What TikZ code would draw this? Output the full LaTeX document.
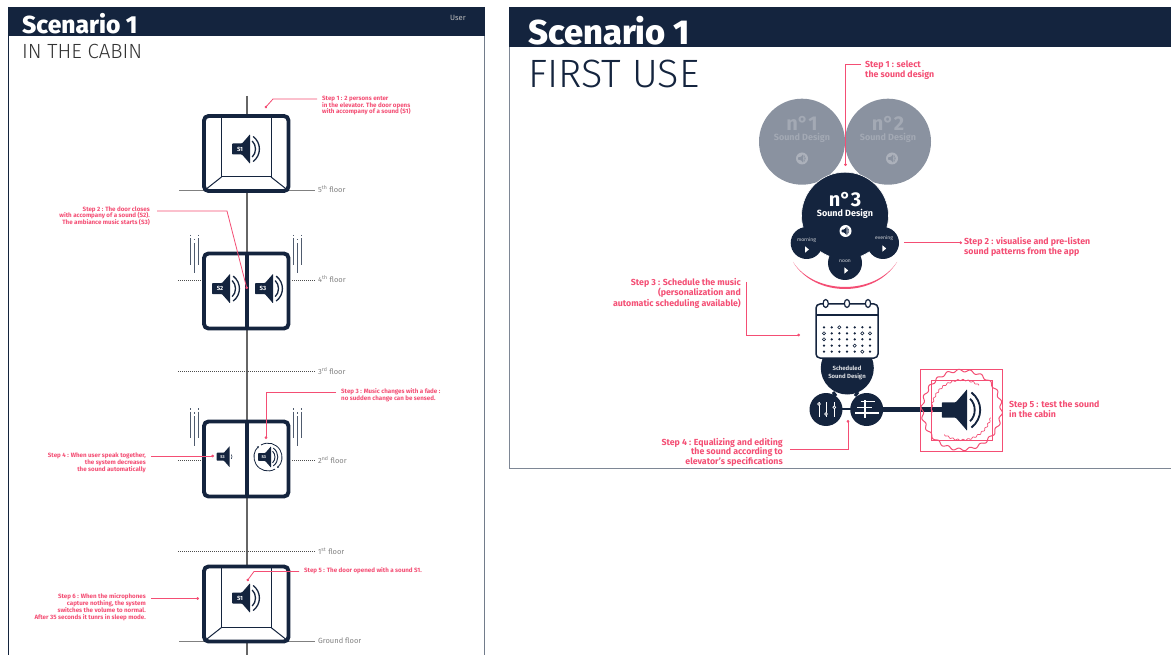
\documentclass[tikz,border=0pt]{standalone}
\usepackage{fontspec}
\setmainfont{Fira Sans}
\newfontfamily\heavyf{Fira Sans ExtraBold}
\newfontfamily\lightf{Fira Sans Light}
\usetikzlibrary{arrows.meta}
\definecolor{navy}{HTML}{14243E}
\definecolor{pinkred}{HTML}{F44E74}
\definecolor{greycirc}{HTML}{8A92A0}
\definecolor{greytxt}{HTML}{A3A9B4}
\definecolor{floorc}{HTML}{808080}
\tikzset{
  redline/.style={draw=pinkred,line width=.8pt},
  dotend/.style={redline,-{Circle[length=2.6pt,width=2.6pt]}},
  redsmall/.style={text=pinkred,font=\fontsize{6.2}{6.8}\selectfont\bfseries,inner sep=0pt},
  redbig/.style={text=pinkred,font=\fontsize{8.8}{9.5}\selectfont\bfseries,inner sep=0pt},
  floorlabel/.style={text=floorc,font=\fontsize{7.5}{8}\selectfont,inner sep=0pt,anchor=west},
  solidfloor/.style={draw=floorc,line width=.9pt},
  dotfloor/.style={draw=black!70,line width=.6pt,dash pattern=on .9pt off 1.1pt},
  cabin/.style={draw=navy,line width=3.9pt,rounded corners=4.5pt,fill=white},
  thinnavy/.style={draw=navy,line width=1pt},
  vib/.style={draw=navy!75,line width=.9pt},
  circtitle/.style={font=\fontsize{20}{21}\selectfont\bfseries,inner sep=0pt,anchor=base},
  circsub/.style={font=\fontsize{9}{10}\selectfont\bfseries,inner sep=0pt,anchor=base},
}
% speaker icon: x, y, scale, colour, label, label size
\newcommand{\spk}[6]{%
 \begin{scope}[shift={(#1,#2)},scale=#3]
  \fill[#4,rounded corners=.8pt] (-18,-5.5) -- (-8,-5.5) -- (-1,-13.5) -- (0,-15) -- (0,15) -- (-1,13.5) -- (-8,5.5) -- (-18,5.5) -- cycle;
  \draw[#4,line width=#3*1.3pt] (2.2,-8) .. controls (6.6,-4) and (6.6,4) .. (2.2,8);
  \draw[#4,line width=#3*1.3pt] (3.2,-12.5) .. controls (11.5,-6) and (11.5,6) .. (3.2,12.5);
  \node[text=white,font=\fontsize{#6}{#6}\selectfont\bfseries,inner sep=0pt] at (-10,0) {#5};
 \end{scope}}
% vibration marks
\newcommand{\vibs}[2]{%
 \draw[vib] (#1,#2) -- (#1,#2+1.5);
 \draw[vib] (#1,#2+3.5) -- (#1,#2+30);
 \draw[vib] (#1+4,#2+4) -- (#1+4,#2+5.5);
 \draw[vib] (#1+4,#2+8) -- (#1+4,#2+38);
 \draw[vib] (#1+8,#2) -- (#1+8,#2+1.5);
 \draw[vib] (#1+8,#2+3.5) -- (#1+8,#2+30);}
% open cabin frame
\newcommand{\opencabin}[1]{%
 \draw[cabin] (204,#1) rectangle (288.5,#1+75);
 \draw[thinnavy] (221.5,#1+1) -- (221.5,#1+61) -- (271,#1+61) -- (271,#1+1);
 \draw[thinnavy] (221.5,#1+61) -- (205,#1+74);
 \draw[thinnavy] (271,#1+61) -- (287.5,#1+74);}
\newcommand{\closedcabin}[1]{%
 \draw[cabin] (204,#1) rectangle (288.5,#1+75);
 \draw[navy,line width=3.9pt] (247,#1) -- (247,#1+75);}
% small play button
\newcommand{\playb}[2]{\fill[white] (#1-1.6,#2-3.2) -- (#1+2.2,#2) -- (#1-1.6,#2+3.2) -- cycle;}
% small round speaker
\newcommand{\rspk}[4]{%
 \fill[#3] (#1,#2) circle[radius=6pt];
 \spk{#1+1}{#2}{.27}{#4}{}{3}}
\begin{document}
\begin{tikzpicture}[x=1pt,y=-1pt]
\useasboundingbox (0,0) rectangle (1171,655);
\fill[white] (0,0) rectangle (1171,655);

% ---------- left panel
\draw[navy,line width=1pt] (8.5,7) -- (8.5,655);
\draw[navy!60,line width=1pt] (484,7) -- (484,655);
\fill[navy] (8,7) rectangle (484.5,36);
\node[anchor=base west,inner sep=0pt,text=white,font=\fontsize{24.6}{25}\selectfont\heavyf] (titleL) at (22,34) {Scenario 1};
\node[anchor=base west,inner sep=0pt,text=black!80,font=\fontsize{20.5}{21}\selectfont\lightf] (subL) at (22,59) {IN THE CABIN};
\node[anchor=center,inner sep=0pt,text=black!25,font=\fontsize{7.6}{8}\selectfont] (user) at (458,17.5) {User};

% shaft
\draw[draw=black!60,line width=1.1pt] (247,96) -- (247,655);

% floors
\draw[solidfloor] (179,190.5) -- (204,190.5);
\draw[solidfloor] (289,190.5) -- (315,190.5);
\node[floorlabel] (f5) at (318,189) {5\textsuperscript{th} floor};
\draw[dotfloor] (178,280) -- (203,280);
\draw[dotfloor] (292,280) -- (315,280);
\node[floorlabel] (f4) at (318,279) {4\textsuperscript{th} floor};
\draw[dotfloor] (178,371) -- (315,371);
\node[floorlabel] (f3) at (318,371) {3\textsuperscript{rd} floor};
\draw[dotfloor] (178,460.7) -- (203,460.7);
\draw[dotfloor] (292,460.7) -- (315,460.7);
\node[floorlabel] (f2) at (318,460) {2\textsuperscript{nd} floor};
\draw[dotfloor] (178,551) -- (315,551);
\node[floorlabel] (f1) at (318,551) {1\textsuperscript{st} floor};
\draw[solidfloor] (179,641) -- (204,641);
\draw[solidfloor] (289,641) -- (315,641);
\node[floorlabel] (f0) at (318,641) {Ground floor};

% cabins
\opencabin{116}
\spk{250}{149}{1}{navy}{S1}{6}
\closedcabin{253.5}
\spk{230}{288.6}{1}{navy}{S2}{6}
\spk{273}{288.6}{1}{navy}{S3}{6}
\vibs{190.7}{235}
\vibs{293.3}{235}
\closedcabin{421.5}
\vibs{190.7}{408}
\vibs{293.3}{408}
\begin{scope}[shift={(229.7,456.7)},scale=.72]
 \fill[navy,rounded corners=.6pt] (-18,-5.5) -- (-8,-5.5) -- (-1,-13.5) -- (0,-15) -- (0,15) -- (-1,13.5) -- (-8,5.5) -- (-18,5.5) -- cycle;
 \node[text=white,font=\fontsize{4}{4}\selectfont\bfseries,inner sep=0pt] at (-10,0) {S3};
 \draw[navy,line width=.5pt] (2.2,-3) .. controls (3.6,-1) and (3.6,1) .. (2.2,3);
\end{scope}
\spk{271}{457}{.72}{navy}{S3}{4}
\draw[navy,line width=.8pt,-{Stealth[length=2pt,width=2pt]}] (261,445) arc[start angle=120,end angle=-50,radius=14pt];
\draw[navy,line width=.8pt,-{Stealth[length=2pt,width=2pt]}] (275,469.1) arc[start angle=-60,end angle=-230,radius=14pt];
\opencabin{566.5}
\spk{250}{598}{1}{navy}{S1}{6}

% left steps
\node[redsmall,anchor=west,align=left] (st1) at (322,105.5) {Step 1 : 2 persons enter\\in the elevator. The door opens\\with accompany of a sound (S1)};
\coordinate (st1a) at (317,99); \coordinate (st1b) at (265,108);
\draw[dotend] (st1a) -- (273,99) -- (st1b);
\node[redsmall,anchor=east,align=right] (st2) at (150,216) {Step 2 : The door closes\\with accompany of a sound (S2).\\The ambiance music starts (S3)};
\coordinate (st2a) at (157,211); \coordinate (st2b) at (247,289);
\draw[dotend] (st2a) -- (227,211) -- (st2b);
\node[redsmall,anchor=west,align=left] (st3) at (341,395.5) {Step 3 : Music changes with a fade :\\no sudden change can be sensed.};
\coordinate (st3a) at (336,392); \coordinate (st3b) at (266,439);
\draw[dotend] (st3a) -- (266,392) -- (st3b);
\node[redsmall,anchor=east,align=right] (st4) at (146,463) {Step 4 : When user speak together,\\the system decreases\\the sound automatically};
\coordinate (st4a) at (151,456); \coordinate (st4b) at (214,456);
\draw[dotend] (st4a) -- (st4b);
\node[redsmall,anchor=west] (st5) at (304,571) {Step 5 : The door opened with a sound S1.};
\coordinate (st5a) at (299,571.5); \coordinate (st5b) at (247,581);
\draw[dotend] (st5a) -- (254,571.5) -- (st5b);
\node[redsmall,anchor=east,align=right] (st6) at (146,607) {Step 6 : When the microphones\\capture nothing, the system\\switches the volume to normal.\\After 35 seconds it tunrs in sleep mode.};
\coordinate (st6a) at (151,598.5); \coordinate (st6b) at (199,598.5);
\draw[dotend] (st6a) -- (st6b);

% ---------- right panel
\draw[navy!55,line width=1pt] (509,7) -- (509,468) -- (1171,468);
\fill[navy] (509,7) rectangle (1171,47);
\node[anchor=base west,inner sep=0pt,text=white,font=\fontsize{34.5}{35}\selectfont\heavyf] (titleR) at (528,45) {Scenario 1};
\node[anchor=base west,inner sep=0pt,text=navy,font=\fontsize{39.5}{40}\selectfont\lightf] (subR) at (528,88) {FIRST USE};

% design circles
\fill[pinkred] (793,262) .. controls (815,298) and (875,298) .. (897,262) .. controls (875,295.3) and (815,295.3) .. (793,262);
\node[circle,fill=greycirc,minimum size=86pt,inner sep=0pt] (c1) at (802,141.7) {};
\node[circle,fill=greycirc,minimum size=86pt,inner sep=0pt] (c2) at (888,141.7) {};
\node[circle,fill=navy,draw=white,line width=.6pt,minimum size=87pt,inner sep=0pt] (c3) at (845,215.7) {};
\node[circle,fill=navy,minimum size=32pt,inner sep=0pt] (cm) at (806.7,243) {};
\node[circle,fill=navy,minimum size=32pt,inner sep=0pt] (ce) at (883,243) {};
\node[circle,fill=navy,minimum size=34pt,inner sep=0pt] (cn) at (845,263) {};
\node[circtitle,text=greytxt] (t1) at (802,130.5) {n°1};
\node[circsub,text=greytxt] (u1) at (802,141) {Sound Design};
\node[circtitle,text=greytxt] (t2) at (888,130.5) {n°2};
\node[circsub,text=greytxt] (u2) at (888,141) {Sound Design};
\node[circtitle,text=white] (t3) at (845,206.5) {n°3};
\node[circsub,text=white] (u3) at (845,216.5) {Sound Design};
\rspk{802}{158.5}{greytxt!90!white}{greycirc}
\rspk{892}{158.5}{greytxt!90!white}{greycirc}
\rspk{845.5}{231}{white}{navy}
\node[text=white!80!navy,font=\fontsize{5}{5}\selectfont,inner sep=0pt] (lm) at (806.5,240.5) {morning};
\node[text=white!80!navy,font=\fontsize{5}{5}\selectfont,inner sep=0pt] (le) at (884,238.5) {evening};
\node[text=white!80!navy,font=\fontsize{5}{5}\selectfont,inner sep=0pt] (ln) at (845,261) {noon};
\playb{806.7}{249.5}
\playb{884}{248.5}
\playb{846}{270.5}

% calendar
\node[circle,fill=navy,minimum size=53pt,inner sep=0pt] (sched) at (847.3,368) {};
\draw[navy,line width=1.5pt,fill=white,rounded corners=4pt] (816,304) rectangle (878,358);
\draw[navy,line width=1.5pt] (816,315) -- (878,315);
\foreach \x in {825.7,847,868}{\draw[navy,line width=1.2pt,fill=white] (\x,303.5) ellipse[x radius=2.6pt,y radius=4pt];}
\foreach \y/\row in {327.3/1,333.3/2,339.3/3,345.7/4,351.7/5}{
 \foreach \x in {824,831.7,839.3,847,854.7,862.3,870}{\fill[navy] (\x,\y) circle[radius=1.25pt];}}
\foreach \x/\y in {839.3/327.3,824/333.3,862.3/333.3,870/333.3,824/339.3,854.7/345.7,862.3/351.7}{
 \draw[navy,line width=.6pt,fill=white] (\x,\y) circle[radius=1.6pt];}
\node[text=white!85!navy,align=center,font=\fontsize{6}{8}\selectfont\bfseries,inner sep=0pt] (schedt) at (847,373) {Scheduled\\Sound Design};

% equaliser
\draw[navy,line width=5pt] (866,409) -- (945,409);
\draw[navy,line width=2pt] (826,409) -- (866,409);
\draw[navy,line width=3pt] (833,392) -- (836,396);
\draw[navy,line width=3pt] (858,392) -- (855,396);
\node[circle,fill=navy,minimum size=33pt,inner sep=0pt] (eq1) at (826,409.5) {};
\node[circle,fill=navy,minimum size=33pt,inner sep=0pt] (eq2) at (866.7,409.5) {};
\foreach \x/\k in {819/404,826/414,834.3/407.3}{
 \draw[white,line width=.8pt] (\x,402) -- (\x,417);
 \draw[white,line width=.7pt,fill=navy] (\x,\k) circle[radius=1.4pt];}
\draw[white,line width=1.4pt] (865,400) -- (865,418);
\draw[white,line width=1.4pt] (860.7,401.7) -- (875,401.7);
\draw[white,line width=1.4pt] (857,407.7) -- (872,407.7);
\draw[white,line width=1.4pt] (855,413) -- (879,413);

% test zone
\draw[pinkred,line width=.8pt] (920,369) rectangle (1002,451);
\draw[pinkred,line width=.8pt] (931,380) rectangle (992,440);
\draw[pinkred,line width=1pt] plot[smooth,domain=0:360,samples=360] ({961.7+(39.5+1.3*sin(22*\x))*cos(\x)},{410+(39.5+1.3*sin(22*\x))*sin(\x)});
\draw[pinkred,line width=.7pt] plot[smooth,domain=170:305,samples=130] ({961.7+(30+.7*sin(36*\x))*cos(\x)},{410+(30+.7*sin(36*\x))*sin(\x)});
\draw[pinkred,line width=.7pt] plot[smooth,domain=15:125,samples=110] ({961.7+(30+.7*sin(36*\x))*cos(\x)},{410+(30+.7*sin(36*\x))*sin(\x)});
\spk{967}{410}{1.4}{navy}{}{5}

% right steps
\node[redbig,anchor=west,align=left] (rs1) at (865,70) {Step 1 : select\\the sound design};
\coordinate (rs1a) at (861,64.7); \coordinate (rs1b) at (845.5,166);
\draw[dotend] (rs1a) -- (845.5,64.7) -- (rs1b);
\node[redbig,anchor=west,align=left] (rs2) at (964,247) {Step 2 : visualise and pre-listen\\sound patterns from the app};
\coordinate (rs2a) at (904,242.7); \coordinate (rs2b) at (962,242.7);
\draw[dotend] (rs2a) -- (rs2b);
\node[redbig,anchor=east,align=right] (rs3) at (741,293) {Step 3 : Schedule the music\\(personalization and\\automatic scheduling available)};
\coordinate (rs3a) at (746,282); \coordinate (rs3b) at (800,335);
\draw[dotend] (rs3a) -- (746,335) -- (rs3b);
\node[redbig,anchor=east,align=right] (rs4) at (783,452) {Step 4 : Equalizing and editing\\the sound according to\\elevator's specifications};
\coordinate (rs4a) at (790,449); \coordinate (rs4b) at (848,420);
\draw[dotend] (rs4a) -- (848,449) -- (rs4b);
\node[redbig,anchor=west,align=left] (rs5) at (1009,409) {Step 5 : test the sound\\in the cabin};
\end{tikzpicture}
\end{document}
